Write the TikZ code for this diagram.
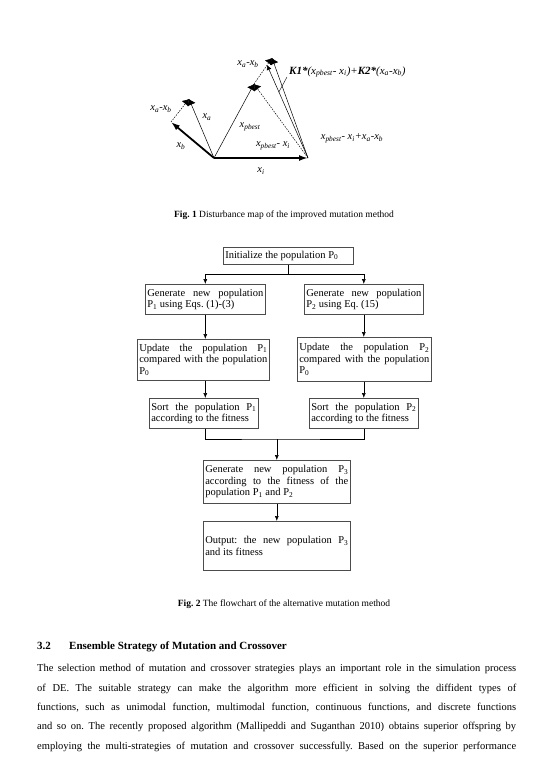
\documentclass[tikz,border=0pt]{standalone}
\usepackage{fontspec}
\setmainfont{Liberation Serif}
\usetikzlibrary{arrows.meta, positioning, calc}
\newcommand{\vx}[1]{\textit{x}\textsubscript{\textit{#1}}}
\newcommand{\Pn}[1]{P\textsubscript{#1}}
\frenchspacing
\hyphenpenalty=10000
\exhyphenpenalty=10000

\begin{document}
\begin{tikzpicture}[x=1pt, y=-1pt,
  box/.style={draw=black!70, line width=0.6pt, anchor=north west, inner xsep=2pt, inner ysep=1pt, align=justify,
    font=\fontsize{10.5}{11.5}\selectfont},
  flow/.style={-{Latex[length=5pt,width=4pt]}, line width=0.6pt},
  bigvec/.style={-{Latex[length=9pt,width=6pt]}, line width=1.8pt},
  thinvec/.style={-{Latex[length=6pt,width=9pt]}, line width=0.5pt},
  dotvec/.style={thinvec, dash pattern=on 1.5pt off 1.2pt},
  lbl/.style={font=\fontsize{10.5}{11}\selectfont\itshape, inner sep=0pt},
  para/.style={anchor=base west, inner sep=0pt, font=\fontsize{10.5}{12}\selectfont}]
\path[use as bounding box, fill=white] (0,0) rectangle (554,767);

% Fig. 1: the vectors of the mutation
\coordinate (O) at (214,158);
\coordinate (Xi) at (308,158);
\coordinate (Xb) at (171,122);
\coordinate (Xa) at (189,99);
\coordinate (Xp) at (254,84);
\coordinate (Xs) at (272,58);
\coordinate (Xk) at (267,65);

\draw[bigvec] (O) -- (Xi);
\draw[bigvec] (O) -- (Xb);
\draw[thinvec] (O) -- (Xa);
\draw[thinvec] (O) -- (Xp);
\draw[dotvec] (Xb) -- (Xa);
\draw[dotvec] (Xi) -- (Xp);
\draw[dotvec] (Xp) -- (Xs);
\draw[thinvec] (Xi) -- (Xs);
\draw[-{Latex[length=5pt,width=5pt]}, line width=0.5pt] (Xi) -- (Xk);

\node[lbl] (Lab) at (161,109) {\vx{a}-\vx{b}};
\node[lbl] (La) at (207,117) {\vx{a}};
\node[lbl] (Lb) at (181,146) {\vx{b}};
\node[lbl] (Lp) at (250,127) {\vx{pbest}};
\node[lbl] (Lpi) at (273,146) {\vx{pbest}- \vx{i}};
\node[lbl] (Li) at (261,171) {\vx{i}};
\node[lbl] (Lab2) at (248,64) {\vx{a}-\vx{b}};
\node[lbl] (Ls) at (352,138) {\vx{pbest}- \vx{i}+\vx{a}-\vx{b}};
\node[lbl, anchor=west, font=\fontsize{11}{12}\selectfont\itshape] (Lk) at (289,72)
  {\textbf{K1*}(\vx{pbest}- \vx{i})+\textbf{K2*}(\vx{a}-\vx{b})};
\draw[line width=0.4pt] (287,77) -- ($(Xi)!0.71!(Xk)$);

\node[font=\fontsize{9.5}{10}\selectfont] (cap1) at (284,215)
  {\textbf{Fig. 1} Disturbance map of the improved mutation method};

% Fig. 2: the flowchart
\node[box, text width=126pt, minimum height=17pt] (init) at (223,247)
  {Initialize the population \Pn{0}};
\node[box, text width=116pt, minimum height=30pt] (gen1) at (145,284)
  {Generate new population\linebreak \Pn{1} using Eqs. (1)-(3)};
\node[box, text width=115pt, minimum height=30pt] (gen2) at (304,284)
  {Generate new population \Pn{2} using Eq. (15)};
\node[box, text width=128pt, minimum height=41pt] (upd1) at (137,339)
  {Update the population \Pn{1} compared with the population \Pn{0}};
\node[box, text width=130pt, minimum height=44pt] (upd2) at (297,337)
  {Update the population \Pn{2} compared with the population \Pn{0}};
\node[box, text width=105pt, minimum height=30pt] (sort1) at (149,398)
  {Sort the population \Pn{1} according to the fitness};
\node[box, text width=105pt, minimum height=30pt] (sort2) at (309,398)
  {Sort the population \Pn{2} according to the fitness};
\node[box, text width=143pt, minimum height=43pt] (newpop) at (203,460)
  {Generate new population \Pn{3} according to the fitness of the population \Pn{1} and \Pn{2}};
\node[box, text width=143pt, minimum height=49pt] (out) at (203,521)
  {Output: the new population \Pn{3}\linebreak and its fitness};

\coordinate (split) at (init.south |- 0,274);
\coordinate (join) at (newpop.north |- 0,439);
\draw[line width=0.6pt] (init.south) -- (split);
\draw[flow] (split) -| (gen1.north);
\draw[flow] (split) -| (gen2.north);
\draw[flow] (gen1.south) -- (gen1.south |- upd1.north);
\draw[flow] (gen2.south) -- (gen2.south |- upd2.north);
\draw[flow] (upd1.south -| gen1.south) -- (gen1.south |- sort1.north);
\draw[flow] (upd2.south -| gen2.south) -- (gen2.south |- sort2.north);
\draw[line width=0.6pt] (sort1.south -| gen1.south) |- (join) -| (sort2.south -| gen2.south);
\draw[flow] (join) -- (newpop.north);
\draw[flow] (newpop.south) -- (out.north);

\node[font=\fontsize{9.5}{10}\selectfont] (cap2) at (284,604)
  {\textbf{Fig. 2} The flowchart of the alternative mutation method};

% Section text
\node[anchor=base west, inner sep=0pt, font=\bfseries\fontsize{11}{12}\selectfont] (secnum) at (37,649) {3.2};
\node[anchor=base west, inner sep=0pt, font=\bfseries\fontsize{11}{12}\selectfont] (sectitle) at (69,649)
  {Ensemble Strategy of Mutation and Crossover};
\node[para] (line1) at (37,671)
  {\makebox[479pt][s]{The selection method of mutation and crossover strategies plays an important role in the simulation process}};
\node[para] (line2) at (37,691)
  {\makebox[479pt][s]{of DE. The suitable strategy can make the algorithm more efficient in solving the diffident types of}};
\node[para] (line3) at (37,710)
  {\makebox[479pt][s]{functions, such as unimodal function, multimodal function, continuous functions, and discrete functions}};
\node[para] (line4) at (37,729)
  {\makebox[479pt][s]{and so on. The recently proposed algorithm (Mallipeddi and Suganthan 2010) obtains superior offspring by}};
\node[para] (line5) at (37,749)
  {\makebox[479pt][s]{employing the multi-strategies of mutation and crossover successfully. Based on the superior performance}};
\end{tikzpicture}
\end{document}
